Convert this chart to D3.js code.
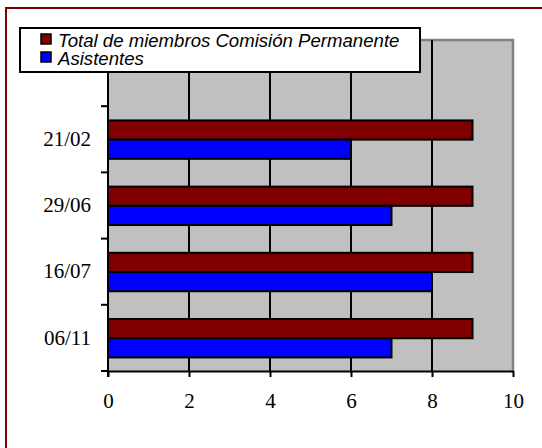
<!DOCTYPE html>
<html>
<head>
<meta charset="utf-8">
<script src="https://cdn.jsdelivr.net/npm/d3@7"></script>
<style>
  body { margin: 0; background: #fff; }
  svg { display: block; }
</style>
</head>
<body>
<svg></svg>
<script>
// data, top to bottom (the top slot is empty in the original sheet)
const fechas = ["", "21/02", "29/06", "16/07", "06/11"];
const totalMiembros = [null, 9, 9, 9, 9];
const asistentes = [null, 6, 7, 8, 7];
const series = ["Total de miembros Comisión Permanente", "Asistentes"];
const seriesColors = ["#800000", "#0000ff"];
const xTicks = [0, 2, 4, 6, 8, 10];

let width = 542;
let height = 448;
let svg = d3.select("svg")
            .attr("width", width)
            .attr("height", height);

// outer frame (only left and top edges fall inside the window)
svg.append("rect")
    .attr("x", 6)
    .attr("y", 8)
    .attr("width", 700)
    .attr("height", 600)
    .attr("fill", "none")
    .attr("stroke", "#800000")
    .attr("stroke-width", 2);

let plot = {left: 108, right: 513, top: 40, bottom: 371};

let x = d3.scaleLinear()
        .domain([0, 10])
        .range([plot.left, plot.right]);

let y = d3.scaleBand()
        .domain(fechas)
        .range([plot.top, plot.bottom]);

let ySub = d3.scaleBand()
        .domain(series)
        .range([y.bandwidth() * 0.215, y.bandwidth() * 0.795]);

// plot background
svg.append("rect")
    .attr("x", plot.left)
    .attr("y", plot.top)
    .attr("width", plot.right - plot.left)
    .attr("height", plot.bottom - plot.top)
    .attr("fill", "#c0c0c0");

// top and right edges in dark gray
svg.append("path")
    .attr("d", `M${plot.left},${plot.top}H${plot.right}V${plot.bottom}`)
    .attr("fill", "none")
    .attr("stroke", "#808080")
    .attr("stroke-width", 2.5);

// vertical gridlines
svg.append("g")
    .selectAll("line")
    .data(xTicks.filter(d => d > 0 && d < 10))
    .enter()
    .append("line")
    .attr("x1", d => x(d))
    .attr("x2", d => x(d))
    .attr("y1", plot.top)
    .attr("y2", plot.bottom)
    .attr("stroke", "#000")
    .attr("stroke-width", 2);

// bars
let rows = fechas.map((f, i) => ({fecha: f, values: [totalMiembros[i], asistentes[i]]}));

svg.append("g")
    .selectAll("g")
    .data(rows)
    .enter()
    .append("g")
    .attr("transform", d => `translate(0, ${y(d.fecha)})`)
    .selectAll("rect")
    .data(d => d.values.map((v, i) => ({key: series[i], value: v, i: i})).filter(d => d.value !== null))
    .enter()
    .append("rect")
    .attr("x", x(0))
    .attr("y", d => ySub(d.key))
    .attr("width", d => x(d.value) - x(0))
    .attr("height", ySub.bandwidth())
    .attr("fill", d => seriesColors[d.i])
    .attr("stroke", "#000")
    .attr("stroke-width", 2);

// x axis
let xAxis = svg.append("g")
    .attr("transform", `translate(0, ${plot.bottom})`)
    .call(d3.axisBottom(x)
        .tickValues(xTicks)
        .tickSize(6)
        .tickPadding(16)
        .tickSizeOuter(0));
xAxis.select(".domain").attr("stroke-width", 2);
xAxis.selectAll(".tick line").attr("stroke-width", 2);
xAxis.selectAll("text")
    .attr("font-family", "'Liberation Serif', 'Times New Roman', serif")
    .attr("font-size", 21)
    .attr("fill", "#000");

// y axis line and ticks at band edges
let yEdges = fechas.map(f => y(f)).concat([y.range()[1]]);
let yAxis = svg.append("g");
yAxis.append("line")
    .attr("x1", plot.left)
    .attr("x2", plot.left)
    .attr("y1", plot.top)
    .attr("y2", plot.bottom + 6)
    .attr("stroke", "#000")
    .attr("stroke-width", 2);
yAxis.selectAll(".edge")
    .data(yEdges)
    .enter()
    .append("line")
    .attr("class", "edge")
    .attr("x1", plot.left - 7)
    .attr("x2", plot.left)
    .attr("y1", d => d)
    .attr("y2", d => d)
    .attr("stroke", "#000")
    .attr("stroke-width", 2);

// category labels (the empty top slot gets no label)
let yLabels = svg.append("g")
    .attr("transform", `translate(${plot.left}, 0)`)
    .call(d3.axisLeft(y)
        .tickValues(fechas.filter(f => f !== ""))
        .tickSize(0)
        .tickPadding(17));
yLabels.select(".domain").remove();
yLabels.selectAll("text")
    .attr("font-family", "'Liberation Serif', 'Times New Roman', serif")
    .attr("font-size", 21)
    .attr("fill", "#000");

// legend
let legend = svg.append("g")
    .attr("transform", "translate(20, 28)");
legend.append("rect")
    .attr("width", 400)
    .attr("height", 44)
    .attr("fill", "#fff")
    .attr("stroke", "#000")
    .attr("stroke-width", 2);
let item = legend.selectAll(".item")
    .data(series)
    .enter()
    .append("g")
    .attr("class", "item")
    .attr("transform", (d, i) => `translate(21, ${6 + i * 18})`);
item.append("rect")
    .attr("width", 10)
    .attr("height", 10)
    .attr("fill", (d, i) => seriesColors[i])
    .attr("stroke", "#000")
    .attr("stroke-width", 1.5);
item.append("text")
    .attr("x", 17)
    .attr("y", 12.5)
    .attr("font-family", "'Liberation Sans', Arial, sans-serif")
    .attr("font-style", "italic")
    .attr("font-size", 18.6)
    .attr("fill", "#000")
    .text(d => d);
</script>
</body>
</html>
